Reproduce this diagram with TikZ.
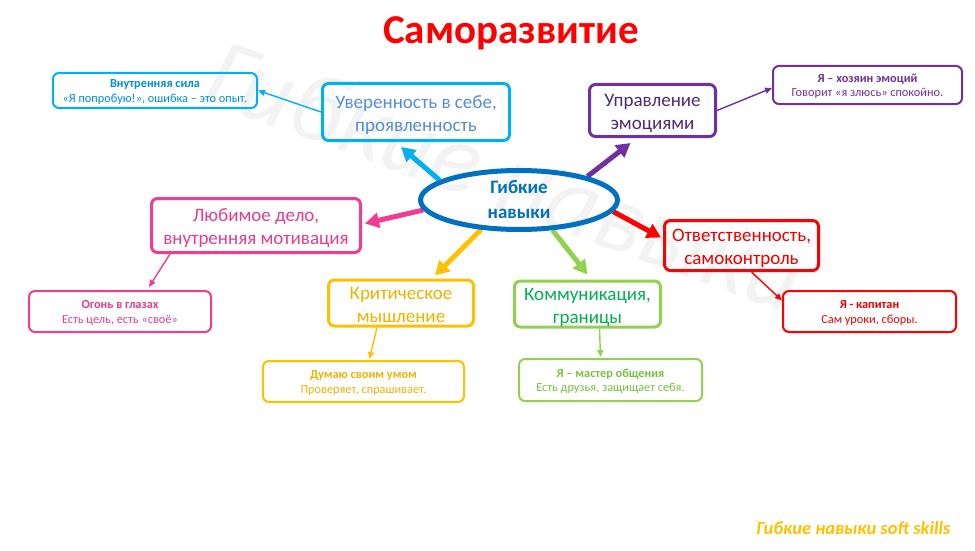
\documentclass[tikz,border=0pt]{standalone}
\usepackage{fontspec}
\setmainfont{Carlito}
\usetikzlibrary{arrows.meta,shapes.geometric,calc}
\pgfdeclarelayer{background}
\pgfsetlayers{background,main}

\definecolor{ccyan}{RGB}{0,176,240}
\definecolor{ccyantxt}{RGB}{84,141,212}
\definecolor{cs1txt}{RGB}{0,140,215}
\definecolor{cblue}{RGB}{0,112,192}
\definecolor{cpurple}{RGB}{112,48,160}
\definecolor{cpurpletxt}{RGB}{80,40,120}
\definecolor{cpink}{RGB}{240,60,145}
\definecolor{cpinktxt}{RGB}{230,60,140}
\definecolor{cred}{RGB}{255,0,0}
\definecolor{credtxt}{RGB}{235,0,0}
\definecolor{cyellow}{RGB}{255,192,0}
\definecolor{cyellowtxt}{RGB}{238,178,0}
\definecolor{cgreen}{RGB}{146,208,80}
\definecolor{cgreentxt}{RGB}{0,176,80}
\definecolor{cs6txt}{RGB}{120,195,60}
\definecolor{cwater}{RGB}{243,243,243}

% two centred lines, lowered a little without changing the box size
\newcommand{\mkbig}[2]{\raisebox{-3pt}[\height][\depth]{\begin{tabular}{@{}c@{}}#1\\#2\end{tabular}}}
\newcommand{\mksmall}[2]{\raisebox{-1.5pt}[\height][\depth]{\begin{tabular}{@{}c@{}}\textbf{#1}\\#2\end{tabular}}}

\begin{document}
\begin{tikzpicture}[x=1pt,y=-1pt,
 bigbox/.style={draw=#1, line width=3pt, rounded corners=6pt, inner sep=0pt,
   font=\fontsize{19}{23}\selectfont},
 smallbox/.style={draw=#1, line width=2pt, rounded corners=6pt, inner sep=0pt,
   font=\fontsize{12.3}{14.5}\selectfont},
 thickarrow/.style={draw=#1, line width=5pt, -{Triangle[length=14pt,width=15pt]}},
 thinarrow/.style={draw=#1, line width=1.4pt, -{Triangle[length=7pt,width=6pt]}},
]
\useasboundingbox (0,0) rectangle (975,551);

% watermark
\begin{pgfonlayer}{background}
\node[rotate=-20, text=cwater, font=\fontsize{100}{100}\selectfont\itshape] (wm) at (505,175) {Гибкие навыки};
\end{pgfonlayer}

% title
\node[anchor=base, text=cred, font=\fontsize{41}{45}\selectfont\bfseries] (title) at (511,44) {Саморазвитие};

% centre
\node[ellipse, draw=cblue, line width=5pt, minimum width=197pt, minimum height=59pt, inner sep=0pt, align=center, text=cblue, font=\fontsize{19}{25}\selectfont\bfseries] (c) at (519,200) {Гибкие\\навыки};

% big boxes
\node[bigbox=ccyan, text=ccyantxt, minimum width=187pt, minimum height=57pt] (conf) at (416,112) {\mkbig{Уверенность в себе,}{проявленность}};
\node[bigbox=cpurple, text=cpurpletxt, minimum width=126pt, minimum height=52pt] (emo) at (652.5,110.5) {\mkbig{Управление}{эмоциями}};
\node[bigbox=cpink, text=cpinktxt, minimum width=209pt, minimum height=54pt] (love) at (256,225.5) {\mkbig{Любимое дело,}{внутренняя мотивация}};
\node[bigbox=cred, text=credtxt, minimum width=154pt, minimum height=50pt] (resp) at (741.5,245.5) {\mkbig{Ответственность,}{самоконтроль}};
\node[bigbox=cyellow, text=cyellowtxt, minimum width=145pt, minimum height=45pt] (crit) at (401,303) {\mkbig{Критическое}{мышление}};
\node[bigbox=cgreen, text=cgreentxt, minimum width=146pt, minimum height=43pt] (comm) at (587.5,304) {\mkbig{Коммуникация,}{границы}};

% small boxes
\node[smallbox=ccyan, text=cs1txt, minimum width=204pt, minimum height=35pt] (s1) at (155,90.5) {\mksmall{Внутренняя сила}{«Я попробую!», ошибка – это опыт.}};
\node[smallbox=cpurple, text=cpurple, minimum width=189pt, minimum height=38pt] (s2) at (867.5,85) {\mksmall{Я – хозяин эмоций}{Говорит «я злюсь» спокойно.}};
\node[smallbox=cpink, text=cpinktxt, minimum width=182pt, minimum height=41pt] (s3) at (120,311.5) {\mksmall{Огонь в глазах}{Есть цель, есть «своё»}};
\node[smallbox=cred, text=credtxt, minimum width=173pt, minimum height=41pt] (s4) at (869.5,311.5) {\mksmall{Я - капитан}{Сам уроки, сборы.}};
\node[smallbox=cyellow, text=cyellowtxt, minimum width=201pt, minimum height=41pt] (s5) at (363.5,381.5) {\mksmall{Думаю своим умом}{Проверяет, спрашивает.}};
\node[smallbox=cgreen, text=cs6txt, minimum width=183pt, minimum height=42pt] (s6) at (610.5,380) {\mksmall{Я – мастер общения}{Есть друзья, защищает себя.}};

% footer
\node[anchor=east, text=cyellow, font=\fontsize{18.5}{22}\selectfont\bfseries\itshape] (foot) at (954,528) {Гибкие навыки soft skills};

% connectors
\begin{pgfonlayer}{background}
\draw[thickarrow=ccyan] (c.166) -- ([xshift=-15pt,yshift=-5pt]conf.south);
\draw[thickarrow=cpurple] (c.19) -- ([xshift=-22pt,yshift=-5pt]emo.south);
\draw[thickarrow=cpink] (c.186) -- ([xshift=3pt,yshift=2pt]love.east);
\draw[thickarrow=cred] (c.353) -- ([xshift=-2pt,yshift=8pt]resp.west);
\draw[thickarrow=cyellow] (c.218) -- ([xshift=34pt,yshift=3pt]crit.north);
\draw[thickarrow=cgreen] (c.318) -- ([xshift=0pt,yshift=5pt]comm.north);

\draw[thinarrow=ccyan] (conf.west) -- (s1.east);
\draw[thinarrow=cpurple] (emo.east) -- ([yshift=-3pt]s2.west);
\draw[thinarrow=cpink] ([xshift=-86pt]love.south) -- ([xshift=29pt,yshift=3pt]s3.north);
\draw[thinarrow=cred] ([xshift=10pt]resp.south) -- ([yshift=11pt]s4.west);
\draw[thinarrow=cyellow] ([xshift=-24pt]crit.south) -- ([xshift=6pt,yshift=1pt]s5.north);
\draw[thinarrow=cgreen] ([xshift=12pt]comm.south) -- ([xshift=-10pt,yshift=1pt]s6.north);
\end{pgfonlayer}
\end{tikzpicture}
\end{document}
